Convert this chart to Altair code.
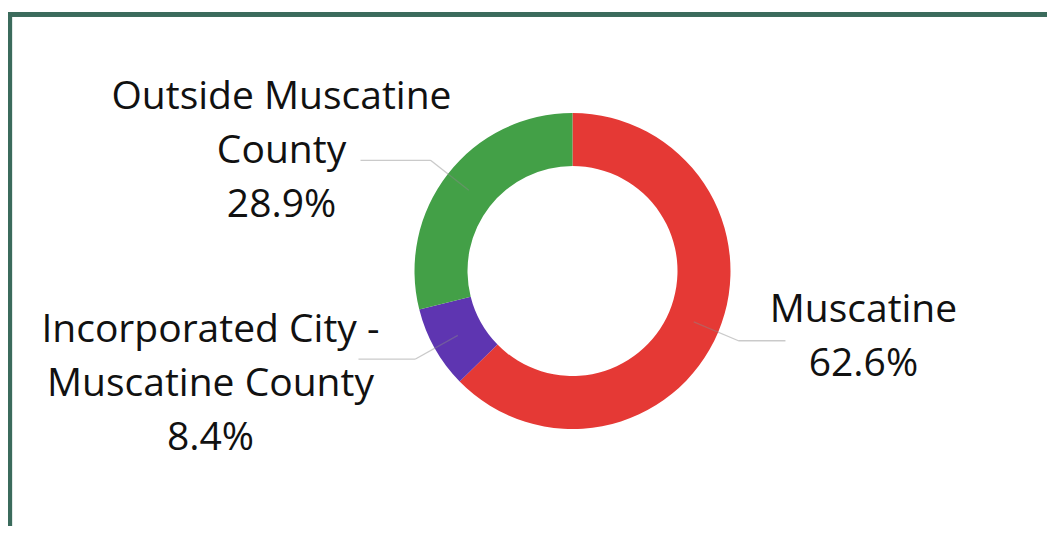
import altair as alt
import pandas as pd

# ---- data ----
categories = ["Muscatine", "Incorporated City - Muscatine County", "Outside Muscatine County"]
label_lines = ["Muscatine\n62.6%", "Incorporated City -\nMuscatine County\n8.4%", "Outside Muscatine\nCounty\n28.9%"]
shares = [62.6, 8.4, 28.9]
slice_order = [1, 2, 3]

# ---- styles / layout (kept apart from the data) ----
colors = ["#e53935", "#5e35b1", "#43a047"]
leader_len = [47, 57, 70]
label_dx = [78, -148, -79]
label_dy = [-19, -17, -51]

CX, CY = 564.5, 263.0
R_IN, R_OUT = 105, 158
R_MID, R_ELBOW = 131.5, 180
W, H = 1039, 518

df = pd.DataFrame({
    "category": categories,
    "label": label_lines,
    "share": shares,
    "order": slice_order,
    "len": leader_len,
    "ldx": label_dx,
    "ldy": label_dy,
})

base = alt.Chart(df)

arc = base.mark_arc(innerRadius=R_IN, outerRadius=R_OUT, stroke=None).encode(
    theta=alt.Theta("share:Q", stack=True),
    color=alt.Color("category:N", scale=alt.Scale(domain=categories, range=colors), legend=None),
    order=alt.Order("order:Q"),
    x=alt.value(CX),
    y=alt.value(CY),
)

geo = base.transform_joinaggregate(
    total="sum(share)"
).transform_window(
    cum="sum(share)", sort=[alt.SortField("order")], frame=[None, 0]
).transform_calculate(
    mid="(datum.cum - datum.share/2) / datum.total * 2 * PI",
).transform_calculate(
    x0=f"{CX} + {R_MID} * sin(datum.mid)",
    y0=f"{CY} - {R_MID} * cos(datum.mid)",
    x1=f"{CX} + {R_ELBOW} * sin(datum.mid)",
    y1=f"{CY} - {R_ELBOW} * cos(datum.mid)",
).transform_calculate(
    x2="datum.x1 + (sin(datum.mid) > 0 ? 1 : -1) * datum.len",
).transform_calculate(
    tx="datum.x2 + datum.ldx",
    ty="datum.y1 + datum.ldy",
)

line_style = dict(color="#8a8a8a", opacity=0.45, strokeWidth=1.3)

leader1 = geo.mark_rule(**line_style).encode(
    x=alt.X("x0:Q", scale=None), y=alt.Y("y0:Q", scale=None),
    x2="x1:Q", y2="y1:Q",
)
leader2 = geo.mark_rule(**line_style).encode(
    x=alt.X("x1:Q", scale=None), y=alt.Y("y1:Q", scale=None),
    x2="x2:Q", y2="y1:Q",
)

labels = geo.mark_text(
    font="Open Sans", fontSize=39, lineHeight=54, align="center",
    baseline="alphabetic", color="#111111", lineBreak="\n",
).encode(
    x=alt.X("tx:Q", scale=None), y=alt.Y("ty:Q", scale=None),
    text="label:N",
)

frame_color = "#3b6b5c"
frame_left = alt.Chart(df).mark_rule(color=frame_color, strokeWidth=4.7, strokeCap="square").encode(
    x=alt.value(1.7), y=alt.value(6.3), y2=alt.value(H + 10),
)
frame_top = alt.Chart(df).mark_rule(color=frame_color, strokeWidth=4.7, strokeCap="square").encode(
    x=alt.value(1.7), x2=alt.value(W + 10), y=alt.value(6.3),
)

chart = alt.layer(arc, leader1, leader2, labels, frame_left, frame_top).properties(
    width=W, height=H, padding=0, autosize=alt.AutoSizeParams(type="none"),
).configure_view(stroke=None)

chart.save("out.html", embed_options={"renderer": "svg", "actions": False})
